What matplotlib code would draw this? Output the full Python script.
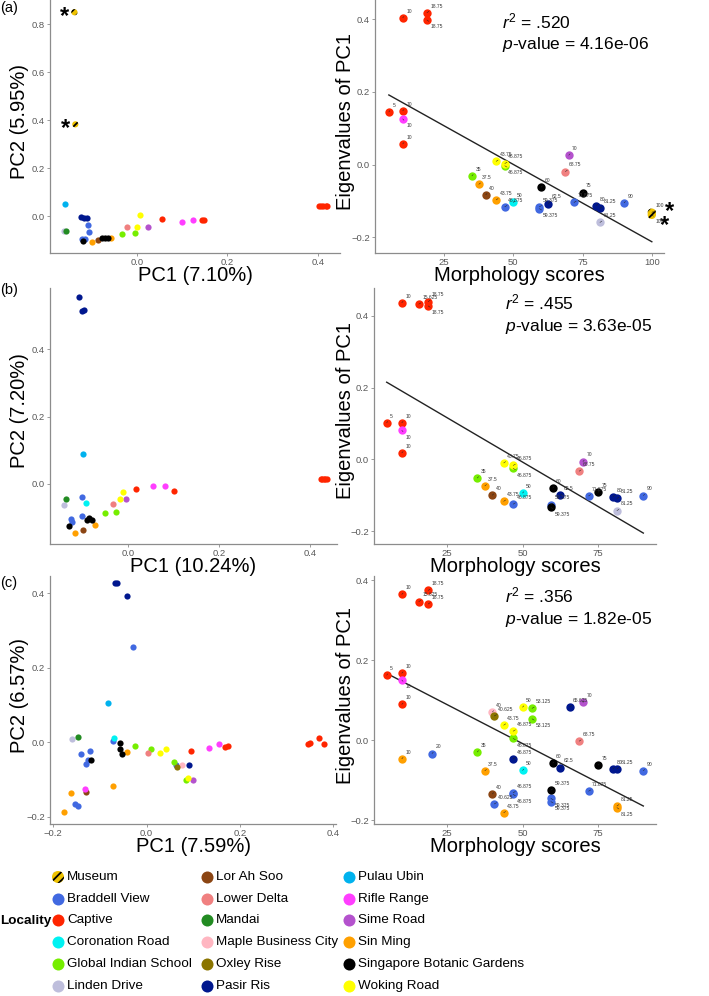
import numpy as np
import matplotlib
matplotlib.use('Agg')
import matplotlib.pyplot as plt
from matplotlib.ticker import FuncFormatter

plt.rcParams['font.family'] = ['Liberation Sans', 'DejaVu Sans']
plt.rcParams['mathtext.fontset'] = 'custom'
plt.rcParams['mathtext.rm'] = 'Liberation Sans'
plt.rcParams['mathtext.it'] = 'Liberation Sans:italic'
plt.rcParams['hatch.linewidth'] = 1.3

# ---- localities ----
loc_codes = ['MU', 'BV', 'CA', 'CR', 'GI', 'LD', 'LA', 'LO', 'MA',
             'MB', 'OX', 'PR', 'PU', 'RR', 'SR', 'SM', 'SB', 'WR']
loc_names = ['Museum', 'Braddell View', 'Captive', 'Coronation Road',
             'Global Indian School', 'Linden Drive', 'Lor Ah Soo', 'Lower Delta',
             'Mandai', 'Maple Business City', 'Oxley Rise', 'Pasir Ris',
             'Pulau Ubin', 'Rifle Range', 'Sime Road', 'Sin Ming',
             'Singapore Botanic Gardens', 'Woking Road']
loc_colors = ['#EEC200', '#4169E1', '#FF2500', '#00F2F2', '#76EE00', '#BEBEDC',
              '#8B4513', '#F08080', '#228B22', '#FFB6C1', '#8B7500', '#00178E',
              '#00B2EE', '#FF3EFF', '#B452CD', '#FFA000', '#000000', '#FFFF00']

# ---- (a) PCA ----
pca_a_loc = ['MU', 'MU', 'PU', 'LD', 'MA', 'PR', 'PR', 'PR', 'BV', 'BV', 'BV', 'BV',
             'SB', 'SM', 'LA', 'SB', 'SB', 'SB', 'SM', 'GI', 'GI', 'LO', 'WR', 'WR',
             'SR', 'CA', 'RR', 'RR', 'CA', 'CA', 'CA', 'CA', 'CA', 'CA', 'CA']
pca_a_x = [-0.138, -0.136, -0.159, -0.162, -0.157, -0.124, -0.116, -0.110, -0.108, -0.106,
           -0.121, -0.115, -0.119, -0.099, -0.085, -0.078, -0.071, -0.064, -0.057, -0.032,
           -0.004, -0.021, 0.001, 0.008, 0.024, 0.056, 0.100, 0.125, 0.143, 0.148,
           0.402, 0.407, 0.412, 0.417, 0.420]
pca_a_y = [0.849, 0.382, 0.050, -0.062, -0.063, -0.004, -0.008, -0.010, -0.037, -0.068,
           -0.096, -0.094, -0.105, -0.108, -0.100, -0.093, -0.091, -0.091, -0.092, -0.074,
           -0.072, -0.045, -0.047, 0.003, -0.047, -0.013, -0.024, -0.017, -0.015, -0.015,
           0.043, 0.043, 0.043, 0.043, 0.043]

# ---- (a) regression ----
reg_a_loc = ['CA', 'CA', 'CA', 'CA', 'CA', 'RR', 'CA', 'GI', 'SM', 'LA', 'SM', 'WR',
             'WR', 'GI', 'BV', 'CR', 'SB', 'BV', 'BV', 'PR', 'LO', 'SR', 'BV', 'SB',
             'PR', 'PR', 'LD', 'BV', 'MU', 'MU']
reg_a_score = [5, 10, 18.75, 18.75, 10, 10, 10, 35, 37.5, 40, 43.75, 43.75,
               46.875, 46.875, 46.875, 50, 60, 59.375, 59.375, 62.5, 68.75, 70, 71.875, 75,
               80, 81.25, 81.25, 90, 100, 100]
reg_a_eig = [0.145, 0.404, 0.418, 0.398, 0.148, 0.126, 0.057, -0.031, -0.054, -0.083,
             -0.097, 0.009, 0.003, -0.003, -0.116, -0.104, -0.062, -0.116, -0.121, -0.107,
             -0.019, 0.026, -0.104, -0.077, -0.113, -0.120, -0.159, -0.105, -0.132, -0.138]
fit_a = (0.213, -0.00425)      # intercept, slope
fit_a_range = (5, 100)
stat_a = ('.520', '4.16e-06')

# ---- (b) PCA ----
pca_b_loc = ['PR', 'PR', 'PR', 'PU', 'CA', 'RR', 'RR', 'CA', 'CA', 'CA', 'CA', 'CA',
             'CA', 'WR', 'WR', 'SR', 'LO', 'GI', 'GI', 'MA', 'LD', 'BV', 'CR', 'BV',
             'BV', 'BV', 'SB', 'SB', 'SB', 'SB', 'SM', 'SM', 'LA']
pca_b_x = [-0.108, -0.101, -0.097, -0.098, 0.018, 0.056, 0.081, 0.102, 0.424, 0.427,
           0.430, 0.433, 0.437, -0.010, -0.018, -0.005, -0.033, -0.051, -0.026, -0.136,
           -0.141, -0.100, -0.092, -0.101, -0.125, -0.123, -0.129, -0.090, -0.085, -0.078,
           -0.072, -0.116, -0.098]
pca_b_y = [0.555, 0.513, 0.516, 0.089, -0.016, -0.007, -0.006, -0.021, 0.014, 0.014,
           0.014, 0.014, 0.014, -0.023, -0.045, -0.045, -0.059, -0.086, -0.084, -0.046,
           -0.063, -0.039, -0.055, -0.095, -0.105, -0.112, -0.124, -0.106, -0.101, -0.107,
           -0.121, -0.145, -0.136]

# ---- (b) regression ----
reg_b_loc = ['CA', 'CA', 'RR', 'CA', 'CA', 'CA', 'CA', 'CA', 'GI', 'SM', 'LA', 'SM',
             'WR', 'WR', 'GI', 'BV', 'CR', 'SB', 'PR', 'BV', 'SB', 'LO', 'SR', 'BV',
             'SB', 'PR', 'PR', 'LD', 'BV']
reg_b_score = [5, 10, 10, 10, 10, 15.625, 18.75, 18.75, 35, 37.5, 40, 43.75,
               43.75, 46.875, 46.875, 46.875, 50, 60, 62.5, 59.375, 59.375, 68.75, 70, 71.875,
               75, 80, 81.25, 81.25, 90]
reg_b_eig = [0.102, 0.102, 0.081, 0.018, 0.437, 0.433, 0.440, 0.428, -0.052, -0.074,
             -0.100, -0.117, -0.010, -0.017, -0.025, -0.125, -0.094, -0.080, -0.100, -0.126,
             -0.134, -0.033, -0.006, -0.102, -0.092, -0.104, -0.109, -0.143, -0.101]
fit_b = (0.240, -0.00495)
fit_b_range = (5, 90)
stat_b = ('.455', '3.63e-05')

# ---- (c) PCA ----
pca_c_loc = ['PR', 'PR', 'PR', 'BV', 'PU', 'LD', 'MA', 'BV', 'BV', 'BV', 'BV', 'SB',
             'RR', 'LA', 'SM', 'BV', 'BV', 'SM', 'BV', 'CR', 'SB', 'SB', 'SB', 'SM',
             'SM', 'GI', 'LO', 'GI', 'WR', 'WR', 'CA', 'GI', 'BV', 'OX', 'MB', 'PR',
             'WR', 'GI', 'SR', 'RR', 'RR', 'CA', 'CA', 'CA', 'CA', 'CA', 'CA']
pca_c_x = [-0.068, -0.063, -0.041, -0.029, -0.083, -0.159, -0.146, -0.141, -0.122, -0.126,
           -0.129, -0.120, -0.132, -0.129, -0.163, -0.154, -0.146, -0.177, -0.072, -0.069,
           -0.056, -0.058, -0.052, -0.042, -0.072, -0.024, 0.002, 0.010, 0.029, 0.041,
           0.095, 0.058, 0.062, 0.066, 0.076, 0.090, 0.088, 0.085, 0.100, 0.133,
           0.156, 0.168, 0.174, 0.346, 0.351, 0.370, 0.381]
pca_c_y = [0.428, 0.427, 0.394, 0.256, 0.105, 0.009, 0.013, -0.032, -0.023, -0.048,
           -0.058, -0.049, -0.127, -0.133, -0.136, -0.165, -0.171, -0.188, 0.002, 0.012,
           -0.002, -0.018, -0.031, -0.027, -0.117, -0.009, -0.030, -0.017, -0.029, -0.017,
           -0.024, -0.054, -0.062, -0.066, -0.062, -0.062, -0.095, -0.103, -0.101, -0.015,
           -0.005, -0.013, -0.011, -0.005, -0.003, 0.012, -0.004]

# ---- (c) regression ----
reg_c_loc = ['CA', 'CA', 'RR', 'CA', 'SM', 'CA', 'CA', 'CA', 'CA', 'BV', 'GI', 'SM',
             'MB', 'OX', 'LA', 'BV', 'WR', 'SM', 'WR', 'GI', 'PR', 'BV', 'BV', 'WR',
             'CR', 'GI', 'GI', 'SB', 'PR', 'SB', 'BV', 'BV', 'PR', 'SR', 'LO', 'BV',
             'SB', 'PR', 'PR', 'SM', 'SM', 'BV']
reg_c_score = [5, 10, 10, 10, 10, 10, 15.625, 18.75, 18.75, 20, 35, 37.5,
               40, 40.625, 40, 40.625, 43.75, 43.75, 46.875, 46.875, 46.875, 46.875, 46.875, 50,
               50, 53.125, 53.125, 60, 62.5, 59.375, 59.375, 59.375, 65.625, 70, 68.75, 71.875,
               75, 80, 81.25, 81.25, 81.25, 90]
reg_c_eig = [0.162, 0.167, 0.150, 0.089, -0.047, 0.364, 0.346, 0.374, 0.340, -0.034,
             -0.030, -0.077, 0.070, 0.060, -0.135, -0.160, 0.037, -0.182, 0.022, 0.004,
             -0.047, -0.132, -0.136, 0.082, -0.076, 0.079, 0.053, -0.058, -0.069, -0.125,
             -0.146, -0.154, 0.083, 0.094, -0.003, -0.128, -0.063, -0.072, -0.072, -0.165,
             -0.169, -0.077]
fit_c = (0.186, -0.0039)
fit_c_range = (5, 90)
stat_c = ('.356', '1.82e-05')

pca_xlabels = ['PC1 (7.10%)', 'PC1 (10.24%)', 'PC1 (7.59%)']
pca_ylabels = ['PC2 (5.95%)', 'PC2 (7.20%)', 'PC2 (6.57%)']

color_of = dict(zip(loc_codes, loc_colors))

W, H = 709, 996
fig = plt.figure(figsize=(W / 100, H / 100), dpi=100)


def box(l, t, r, b):
    return [l / W, 1 - b / H, (r - l) / W, (b - t) / H]


def fmt_num(v, pos=None):
    s = '%g' % v if abs(v) >= 1 else '%.1f' % v
    return s.replace('-', '\u2212')


def style(ax, xticks, yticks):
    for s in ['top', 'right']:
        ax.spines[s].set_visible(False)
    for s in ['left', 'bottom']:
        ax.spines[s].set_color('#8c8c8c')
        ax.spines[s].set_linewidth(0.9)
    ax.set_xticks(xticks)
    ax.set_yticks(yticks)
    ax.xaxis.set_major_formatter(FuncFormatter(fmt_num))
    ax.yaxis.set_major_formatter(FuncFormatter(fmt_num))
    ax.tick_params(length=2, width=0.6, color='#8c8c8c', labelsize=6.8,
                   labelcolor='#595959', pad=1.5)


def draw_points(ax, codes, xs, ys, size):
    codes = np.array(codes)
    xs = np.array(xs)
    ys = np.array(ys)
    for code in loc_codes:
        m = codes == code
        if not m.any():
            continue
        if code == 'MU':
            ax.scatter(xs[m], ys[m], s=size, facecolor=color_of[code],
                       edgecolor='black', linewidth=0, hatch='////', zorder=3)
        else:
            ax.scatter(xs[m], ys[m], s=size, color=color_of[code],
                       linewidth=0, zorder=3)


def set_labels(ax, xl, yl, box_px, ylab_right):
    l, t, r, b = box_px
    ax.set_xlabel(xl, fontsize=14.5, va='top')
    ax.xaxis.set_label_coords(0.5, -13 / (b - t))
    ax.set_ylabel(yl, fontsize=14.5)
    ax.yaxis.set_label_coords((ylab_right - l) / (r - l), 0.52)


pca_boxes = [(50, 0, 340, 253), (50, 288, 337, 544), (50, 576, 336, 824)]
reg_boxes = [(375, 0, 664, 253), (374, 288, 656, 544), (374, 576, 656, 824)]
pca_lims = [((-0.192, 0.449), (-0.154, 0.900)),
            ((-0.171, 0.459), (-0.178, 0.581)),
            ((-0.207, 0.406), (-0.220, 0.447))]
reg_lims = [((0.0, 104.4), (-0.243, 0.453)),
            ((0.8, 94.2), (-0.236, 0.478)),
            ((0.8, 94.2), (-0.210, 0.410))]
pca_xt = [[0.0, 0.2, 0.4], [0.0, 0.2, 0.4], [-0.2, 0.0, 0.2, 0.4]]
pca_yt = [[0.0, 0.2, 0.4, 0.6, 0.8], [0.0, 0.2, 0.4], [-0.2, 0.0, 0.2, 0.4]]
reg_xt = [[25, 50, 75, 100], [25, 50, 75], [25, 50, 75]]
reg_yt = [-0.2, 0.0, 0.2, 0.4]

pcas = [(pca_a_loc, pca_a_x, pca_a_y), (pca_b_loc, pca_b_x, pca_b_y),
        (pca_c_loc, pca_c_x, pca_c_y)]
regs = [(reg_a_loc, reg_a_score, reg_a_eig, fit_a, fit_a_range, stat_a),
        (reg_b_loc, reg_b_score, reg_b_eig, fit_b, fit_b_range, stat_b),
        (reg_c_loc, reg_c_score, reg_c_eig, fit_c, fit_c_range, stat_c)]
stat_y = [(28, 49), (309, 331), (602, 624)]
panel_y = [8, 290, 583]

for i in range(3):
    # PCA scatter
    ax = fig.add_axes(box(*pca_boxes[i]))
    codes, xs, ys = pcas[i]
    draw_points(ax, codes, xs, ys, 20)
    ax.set_xlim(*pca_lims[i][0])
    ax.set_ylim(*pca_lims[i][1])
    style(ax, pca_xt[i], pca_yt[i])
    set_labels(ax, pca_xlabels[i], pca_ylabels[i], pca_boxes[i], 29)
    for c, x, y in zip(codes, xs, ys):
        if c == 'MU':
            ax.annotate('*', (x, y), xytext=(-7, -3.3), textcoords='offset points',
                        fontsize=17, ha='center', va='center', fontweight='bold')

    # regression
    ax = fig.add_axes(box(*reg_boxes[i]))
    codes, sc, ev, fit, frange, stat = regs[i]
    xx = np.array(frange, dtype=float)
    ax.plot(xx, fit[0] + fit[1] * xx, color='#222222', lw=1.0, zorder=2)
    draw_points(ax, codes, sc, ev, 36)
    for k, (c, x, y) in enumerate(zip(codes, sc, ev)):
        # crude repel: a point sitting just under another one gets its label below
        below = any(sc[j] == x and 0 < ev[j] - y < 0.03 for j in range(len(sc)))
        off, va = ((2.5, -3), 'top') if below else ((2.5, 3), 'bottom')
        ax.annotate('%g' % x, (x, y), xytext=off, textcoords='offset points',
                    fontsize=3.6, color='#3a3a3a', ha='left', va=va, zorder=4,
                    arrowprops=dict(arrowstyle='-', lw=0.35, color='#222222',
                                    shrinkA=0, shrinkB=0))
    mus = [k for k, c in enumerate(codes) if c == 'MU']
    for j, k in enumerate(mus):
        off = [(13, 1), (9, -7.5)][j]
        ax.annotate('*', (sc[k], ev[k]), xytext=off, textcoords='offset points',
                    fontsize=17, ha='center', va='center', fontweight='bold')
    ax.set_xlim(*reg_lims[i][0])
    ax.set_ylim(*reg_lims[i][1])
    style(ax, reg_xt[i], reg_yt)
    set_labels(ax, 'Morphology scores', 'Eigenvalues of PC1', reg_boxes[i], 355)

    sx = (502 if i == 0 else 505) / W
    fig.text(sx, 1 - stat_y[i][0] / H, r'$r^2$ = ' + stat[0], fontsize=12.5,
             va='baseline')
    fig.text(sx, 1 - stat_y[i][1] / H, r'$p$-value = ' + stat[1], fontsize=12.5,
             va='baseline')
    fig.text(0, 1 - panel_y[i] / H, '(' + 'abc'[i] + ')', fontsize=10.5,
             va='center', ha='left')

# ---- legend ----
lax = fig.add_axes([0, 0, 1, 1], zorder=-1)
lax.set_xlim(0, W)
lax.set_ylim(H, 0)
lax.axis('off')
col_x = [58, 207, 349]
for k, (code, name) in enumerate(zip(loc_codes, loc_names)):
    cx = col_x[k // 6]
    cy = 877 + (k % 6) * 21.7
    if code == 'MU':
        lax.scatter(cx, cy, s=75, facecolor=color_of[code], edgecolor='black',
                    linewidth=0, hatch='////')
    else:
        lax.scatter(cx, cy, s=75, color=color_of[code], linewidth=0)
    lax.text(cx + 9, cy, name, fontsize=9.7, va='center', ha='left')
fig.text(0, 1 - 921 / H, 'Locality', fontsize=9.7, fontweight='bold',
         va='center', ha='left')

fig.savefig('out.png', dpi=100)
